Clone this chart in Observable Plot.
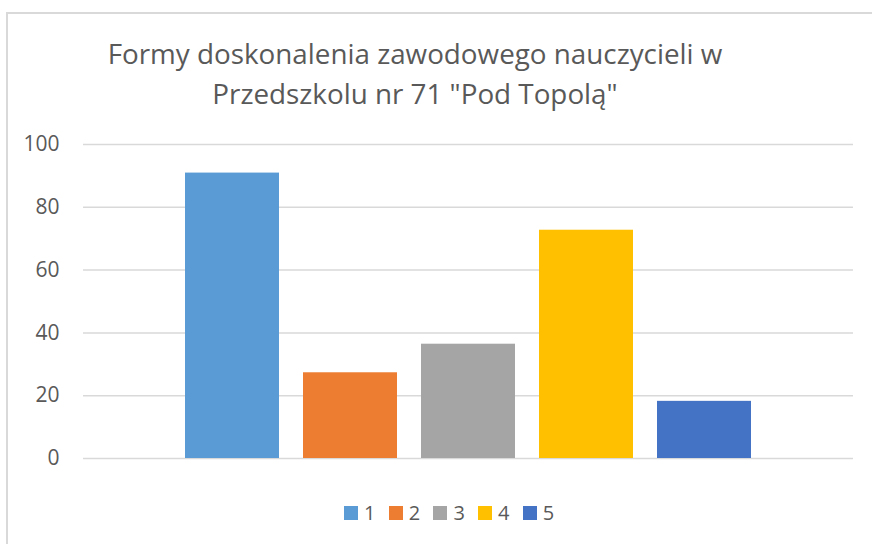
<!DOCTYPE html>
<html>
<head>
<meta charset="utf-8">
<script src="https://cdn.jsdelivr.net/npm/d3@7"></script>
<script src="https://cdn.jsdelivr.net/npm/@observablehq/plot@0.6"></script>
<style>
  html, body { margin: 0; padding: 0; background: #fff; }
  #wrap { position: relative; width: 872px; height: 544px; overflow: hidden; font-family: "Open Sans", sans-serif; color: #595959; }
  #frame { position: absolute; left: 6px; top: 12px; width: 900px; height: 600px; border: 2px solid #d9d9d9; box-sizing: border-box; }
  #title { position: absolute; left: 0; top: 33px; width: 830px; text-align: center; font-size: 27.8px; line-height: 40px; white-space: nowrap; }
  #chart { position: absolute; left: 0; top: 120px; }
  #legend { position: absolute; left: 0; top: 498px; width: 872px; height: 30px; }
  .item { position: absolute; top: 0; display: flex; align-items: center; font-size: 20px; line-height: 30px; }
  .sw { width: 14px; height: 14px; margin-right: 6px; }
</style>
</head>
<body>
<div id="wrap">
  <div id="frame"></div>
  <div id="title">Formy doskonalenia zawodowego nauczycieli w<br>Przedszkolu nr 71 "Pod Topolą"</div>
  <div id="chart"></div>
  <div id="legend"></div>
</div>
<script>
const categories = ["1", "2", "3", "4", "5"];
const values = [90.9, 27.3, 36.4, 72.7, 18.2];
const colors = ["#5B9BD5", "#ED7D31", "#A5A5A5", "#FFC000", "#4472C4"];
const yTicks = [0, 20, 40, 60, 80, 100];

const data = categories.map((c, i) => ({ cat: c, value: values[i] }));

const chart = Plot.plot({
  width: 872,
  height: 350,
  marginLeft: 83,
  marginRight: 19,
  marginTop: 24,
  marginBottom: 12,
  style: { fontFamily: "Open Sans, sans-serif", fontSize: "21px", color: "#595959", background: "transparent" },
  x: { domain: categories, range: [173, 763], paddingInner: 0.2, paddingOuter: 0.1, axis: null },
  y: { domain: [0, 100], axis: null },
  color: { domain: categories, range: colors },
  marks: [
    Plot.ruleY(yTicks, { stroke: "#d9d9d9", strokeWidth: 1.5 }),
    Plot.barY(data, { x: "cat", y: "value", fill: "cat" }),
    Plot.axisY(yTicks, { tickSize: 0, tickPadding: 24, label: null, fill: "#595959", fontSize: 21, textAnchor: "end" })
  ]
});
document.getElementById("chart").appendChild(chart);

const legend = document.getElementById("legend");
const legendStart = 344, legendStep = 44.7;
categories.forEach((c, i) => {
  const it = document.createElement("div");
  it.className = "item";
  it.style.left = (legendStart + i * legendStep) + "px";
  const sw = document.createElement("div");
  sw.className = "sw";
  sw.style.background = colors[i];
  const t = document.createElement("span");
  t.textContent = c;
  it.appendChild(sw);
  it.appendChild(t);
  legend.appendChild(it);
});
</script>
</body>
</html>
